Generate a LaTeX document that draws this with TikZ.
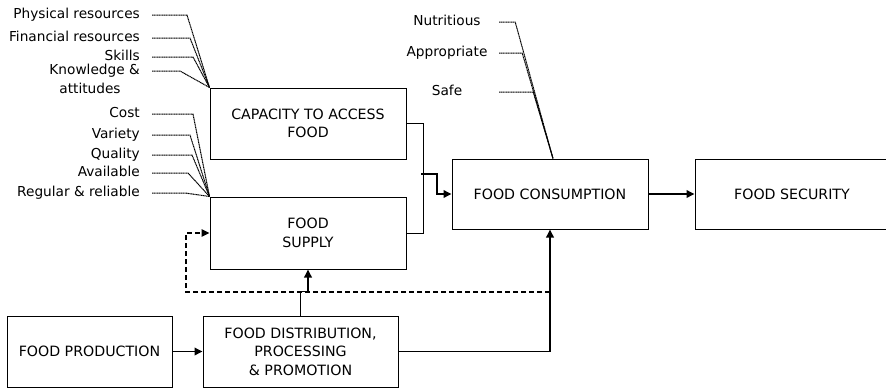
\documentclass[tikz,border=0pt]{standalone}
\usepackage{fontspec}
\setmainfont{DejaVu Sans}
\usepackage{tikz}
\usetikzlibrary{arrows.meta,positioning}

\begin{document}
\begin{tikzpicture}[x=1pt,y=1pt,
  box/.style={draw=black,line width=1pt,align=center,font=\fontsize{14.2}{18.5}\selectfont},
  lbl/.style={anchor=east,inner xsep=12pt,inner ysep=0pt,text height=10.5pt,text depth=3pt,font=\fontsize{13.7}{18.5}\selectfont},
  toplbl/.style={text width=104pt,align=center,inner sep=0pt,text height=10.5pt,text depth=3pt,font=\fontsize{13.7}{18.5}\selectfont},
  dots/.style={line width=1pt,dash pattern=on 1.2pt off 0.5pt},
  thin/.style={line width=1pt},
  thk/.style={line width=1.8pt,-{Triangle[length=8pt,width=7.5pt]}}]
\useasboundingbox (0,0) rectangle (886,-388);
% boxes
\node [box,minimum width=196pt,minimum height=71pt] (cap) at (308,-123.5) {CAPACITY TO ACCESS\\FOOD};
\node [box,minimum width=196pt,minimum height=72pt] (sup) at (308,-233) {FOOD\\SUPPLY};
\node [box,minimum width=196pt,minimum height=70pt] (cons) at (550,-194) {FOOD CONSUMPTION};
\node [box,minimum width=194pt,minimum height=70pt] (sec) at (792,-194) {FOOD SECURITY};
\node [box,minimum width=165pt,minimum height=71pt] (prod) at (89.5,-351.5) {FOOD PRODUCTION};
\node [box,minimum width=195pt,minimum height=71pt] (dist) at (300.5,-351.5) {FOOD DISTRIBUTION,\\PROCESSING\\\& PROMOTION};
% labels
\node [lbl] (lphys) at (152,-15) {Physical resources};
\node [lbl] (lfin) at (152,-38) {Financial resources};
\node [lbl] (lskill) at (152,-57) {Skills};
\node [lbl] (lknow) at (152,-71) {Knowledge \&};
\node [lbl,anchor=center,inner xsep=0pt] (latt) at (90,-90) {attitudes};
\node [lbl] (lcost) at (152,-114) {Cost};
\node [lbl] (lvar) at (152,-135) {Variety};
\node [lbl] (lqual) at (152,-155) {Quality};
\node [lbl] (lavail) at (152,-173) {Available};
\node [lbl] (lreg) at (152,-193) {Regular \& reliable};
\node [toplbl] (lnut) at (447,-22) {Nutritious};
\node [toplbl] (lapp) at (447,-53) {Appropriate};
\node [toplbl] (lsafe) at (447,-92) {Safe};
% label leaders
\draw [dots] (lphys.east) -- ++(35,0) -- (cap.north west);
\draw [dots] (lfin.east) -- ++(38,0) -- (cap.north west);
\draw [dots] (lskill.east) -- ++(41,0) -- (cap.north west);
\draw [dots] (lknow.east) -- ++(28,0) -- (cap.north west);
\draw [dots] (lcost.east) -- ++(41,0) -- (sup.north west);
\draw [dots] (lvar.east) -- ++(38,0) -- (sup.north west);
\draw [dots] (lqual.east) -- ++(40,0) -- (sup.north west);
\draw [dots] (lavail.east) -- ++(36,0) -- (sup.north west);
\draw [dots] (lreg.east) -- ++(33,0) -- (sup.north west);
\draw [dots] (lnut.east) -- ++(16,0) -- ([xshift=3pt]cons.north);
\draw [dots] (lapp.east) -- ++(23,0) -- ([xshift=3pt]cons.north);
\draw [dots] (lsafe.east) -- ++(34,0) -- ([xshift=3pt]cons.north);
% connectors
\coordinate (join) at (421,-174);
\coordinate (fb) at (550,-292);
\draw [black,thin] (cap.east) -- ++(17,0) |- (sup.east);
\draw [black,thk] (join) -- ++(16,0) |- (cons.west);
\draw [black,thk] (cons.east) -- (sec.west);
\draw [black,thk] (prod.east) -- (dist.west);
\draw [black,thk] (dist.north) -- ++(0,24) -| (sup.south);
\draw [black,thk] (dist.east) -| (cons.south);
\draw [black,line width=1.3pt,dash pattern=on 5pt off 3pt,-{Triangle[length=8pt,width=7.5pt]}] (fb) -- (186,-292) |- (sup.west);
\end{tikzpicture}
\end{document}
